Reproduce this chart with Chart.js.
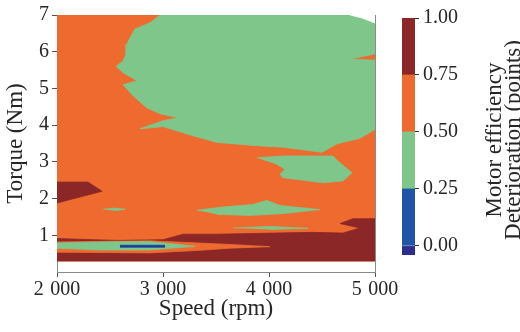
<!DOCTYPE html>
<html>
<head>
<meta charset="utf-8">
<script src="https://cdn.jsdelivr.net/npm/chart.js@4.4.1/dist/chart.umd.min.js"></script>
<style>
html, body { margin: 0; padding: 0; background: #fff; }
#wrap { position: relative; width: 520px; height: 332px; }
#wrap canvas { position: absolute; left: 0; top: 0; }
</style>
</head>
<body>
<div id="wrap">
  <canvas id="map" width="520" height="332"></canvas>
  <canvas id="cbar" width="520" height="332"></canvas>
</div>
<script>
'use strict';

// axes
var speedTicks = [2000, 3000, 4000, 5000];
var torqueTicks = [1, 2, 3, 4, 5, 6, 7];

// colour levels of the filled contours
var levelEdges = [-0.04, 0, 0.25, 0.5, 0.75, 1.0];
var levelTicks = [0, 0.25, 0.5, 0.75, 1.0];
var levelColors = ['#2e2d8e', '#1f55a4', '#7ec68a', '#ee6a2f', '#8b2726'];

// contour regions, [speed rpm, torque Nm], drawn bottom to top
var fieldMid = [[2000, 0.3], [5000, 0.3], [5000, 7], [2000, 7]];
var greenUpper = [[2972, 7], [2877, 6.79], [2736, 6.62], [2689, 6.38], [2660, 6.21], [2651, 5.94],
    [2623, 5.75], [2557, 5.6], [2623, 5.43], [2755, 5.21], [2623, 5.1], [2717, 4.8], [2849, 4.47],
    [2972, 4.31], [3142, 4.2], [3000, 4.12], [2783, 3.9], [3000, 3.96], [3283, 3.71], [3509, 3.53],
    [3887, 3.44], [4132, 3.4], [4500, 3.26], [4642, 3.49], [4858, 3.64], [5000, 3.88],
    [5000, 5.77], [4764, 5.8], [5000, 5.94], [5000, 7]];
var noDataCorner = [[4764, 7], [4877, 6.92], [5000, 6.78], [5000, 7]];
var greenMid = [[3884, 3.11], [4132, 3.16], [4604, 3.16], [4651, 3.02], [4783, 2.7], [4698, 2.48],
    [4509, 2.43], [4132, 2.57], [4104, 2.66], [4151, 2.8], [4075, 2.93]];
var greenLow = [[3318, 1.68], [3566, 1.77], [3849, 1.84], [3981, 1.95], [4104, 1.81], [4481, 1.7],
    [4132, 1.59], [3821, 1.54], [3509, 1.57]];
var greenDashLeft = [[2437, 1.71], [2547, 1.74], [2642, 1.71], [2547, 1.67]];
var greenDashLow = [[3660, 1.2], [4009, 1.24], [4368, 1.19], [4009, 1.16]];
var redLeft = [[2000, 2.45], [2292, 2.45], [2425, 2.2], [2000, 1.88]];
var redBottom = [[2000, 0.91], [2566, 0.86], [3000, 0.88], [3189, 1.03], [3509, 1.03], [4400, 1.08],
    [4698, 1.06], [4858, 1.2], [4670, 1.32], [4792, 1.45], [5000, 1.45], [5000, 0.3], [2000, 0.3]];
var orangeLens = [[2000, 0.82], [2877, 0.85], [3632, 0.75], [4009, 0.69], [3632, 0.65], [3349, 0.59],
    [2877, 0.52], [2000, 0.54]];
var greenLens = [[2000, 0.79], [2406, 0.82], [2877, 0.83], [3302, 0.7], [2877, 0.6], [2406, 0.6],
    [2000, 0.65]];
var blueStreak = [[2594, 0.7], [3019, 0.7]];

var regions = [
    { pts: fieldMid, level: 3 },
    { pts: greenUpper, level: 2 },
    { pts: noDataCorner, level: -1 },
    { pts: greenMid, level: 2 },
    { pts: greenLow, level: 2 },
    { pts: greenDashLeft, level: 2 },
    { pts: greenDashLow, level: 2 },
    { pts: redLeft, level: 4 },
    { pts: redBottom, level: 4 },
    { pts: orangeLens, level: 3 },
    { pts: greenLens, level: 2 }
];

var serif = "'Liberation Serif', 'Times New Roman', serif";
var ink = '#262626';
var spine = '#8a8a8a';

var toXY = function(pts) {
    return pts.map(function(p) { return { x: p[0], y: p[1] }; });
};

var datasets = regions.map(function(r, i) {
    var c = r.level < 0 ? '#ffffff' : levelColors[r.level];
    return {
        data: toXY(r.pts),
        backgroundColor: c,
        borderColor: c,
        borderWidth: 0.8,
        pointRadius: 0,
        fill: 'shape',
        order: 100 - i
    };
});
datasets.push({
    data: toXY(blueStreak), borderColor: levelColors[1], borderWidth: 3,
    pointRadius: 0, fill: false, order: 2
});
datasets.push({
    data: toXY(blueStreak), borderColor: levelColors[0], borderWidth: 1,
    pointRadius: 0, fill: false, order: 1
});

var fmtSpeed = function(v) {
    var s = String(v);
    return s.slice(0, -3) + '\u2004' + s.slice(-3);
};

new Chart(document.getElementById('map').getContext('2d'), {
    type: 'line',
    data: { datasets: datasets },
    options: {
        responsive: false,
        animation: false,
        layout: { padding: { left: 0, top: 14, right: 145, bottom: 0 } },
        plugins: { legend: { display: false }, tooltip: { enabled: false } },
        scales: {
            x: {
                type: 'linear', min: 2000, max: 5000,
                afterBuildTicks: function(a) { a.ticks = speedTicks.map(function(v) { return { value: v }; }); },
                afterFit: function(s) { s.height = 60; },
                ticks: { callback: fmtSpeed, font: { family: serif, size: 20 }, color: ink, padding: 1, maxRotation: 0, autoSkip: false },
                grid: { drawOnChartArea: false, tickLength: 5, color: '#555' },
                border: { color: spine },
                title: { display: true, text: 'Speed (rpm)', font: { family: serif, size: 23 }, color: ink, padding: { top: 0, bottom: 9 } }
            },
            y: {
                type: 'linear', min: 0, max: 7,
                afterBuildTicks: function(a) { a.ticks = torqueTicks.map(function(v) { return { value: v }; }); },
                afterFit: function(s) { s.width = 57; },
                ticks: { font: { family: serif, size: 20 }, color: ink, padding: 3 },
                grid: { drawOnChartArea: false, tickLength: 5, color: '#555' },
                border: { color: spine },
                title: { display: true, text: 'Torque (Nm)', font: { family: serif, size: 23 }, color: ink, padding: { top: 2, bottom: 0 } }
            },
            x2: {
                type: 'linear', position: 'top', min: 2000, max: 5000,
                afterFit: function(s) { s.height = 0; },
                ticks: { display: false }, grid: { display: false }, border: { color: '#555' }
            },
            y2: {
                type: 'linear', position: 'right', min: 0, max: 7,
                afterFit: function(s) { s.width = 0; },
                ticks: { display: false }, grid: { display: false }, border: { color: spine }
            }
        }
    }
});

// colour bar title reads bottom to top on the right
var cbarTitle = {
    id: 'cbarTitle',
    afterDraw: function(chart) {
        var ctx = chart.ctx;
        ctx.save();
        ctx.font = '23px ' + serif;
        ctx.fillStyle = ink;
        ctx.textAlign = 'center';
        ctx.textBaseline = 'alphabetic';
        ctx.translate(501, 140);
        ctx.rotate(-Math.PI / 2);
        ctx.fillText('Motor efficiency', 0, 0);
        ctx.fillText('Deterioration (points)', 0, 19);
        ctx.restore();
    }
};

new Chart(document.getElementById('cbar').getContext('2d'), {
    type: 'bar',
    data: {
        labels: ['level'],
        datasets: levelColors.map(function(c, i) {
            return {
                data: [[levelEdges[i], levelEdges[i + 1]]],
                backgroundColor: c, borderWidth: 0, grouped: false,
                barPercentage: 1, categoryPercentage: 1
            };
        })
    },
    options: {
        responsive: false,
        animation: false,
        layout: { padding: { left: 402, top: 18, right: 0, bottom: 77 } },
        plugins: { legend: { display: false }, tooltip: { enabled: false } },
        scales: {
            x: { display: false },
            y: {
                position: 'right', min: -0.04, max: 1,
                afterBuildTicks: function(a) { a.ticks = levelTicks.map(function(v) { return { value: v }; }); },
                afterFit: function(s) { s.width = 105; },
                ticks: { callback: function(v) { return v.toFixed(2); }, font: { family: serif, size: 20 }, color: ink, padding: 4 },
                grid: { drawOnChartArea: false, tickLength: 4, color: '#333' },
                border: { display: false }
            }
        }
    },
    plugins: [cbarTitle]
});
</script>
</body>
</html>
